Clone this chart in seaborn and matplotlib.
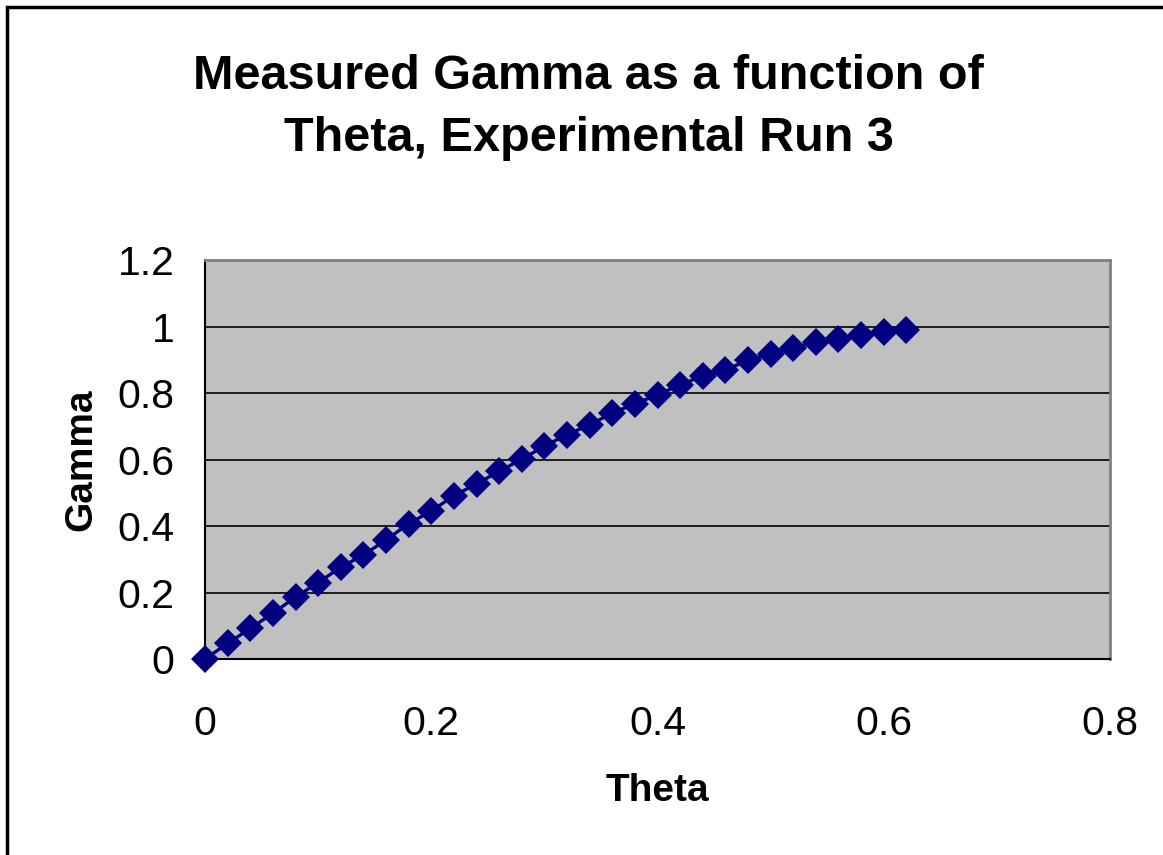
import numpy as np
import pandas as pd
import seaborn as sns
import matplotlib.pyplot as plt
from matplotlib.patches import Rectangle

theta = [0.00, 0.02, 0.04, 0.06, 0.08, 0.10, 0.12, 0.14, 0.16, 0.18,
         0.20, 0.22, 0.24, 0.26, 0.28, 0.30, 0.32, 0.34, 0.36, 0.38,
         0.40, 0.42, 0.44, 0.46, 0.48, 0.50, 0.52, 0.54, 0.56, 0.58,
         0.60, 0.62]
gamma = [0.000, 0.047, 0.092, 0.138, 0.186, 0.230, 0.276, 0.313, 0.358, 0.407,
         0.445, 0.491, 0.527, 0.564, 0.601, 0.640, 0.675, 0.704, 0.740, 0.767,
         0.795, 0.824, 0.852, 0.870, 0.898, 0.918, 0.936, 0.953, 0.963, 0.973,
         0.983, 0.991]
x_ticks = [0, 0.2, 0.4, 0.6, 0.8]
x_labels = ['0', '0.2', '0.4', '0.6', '0.8']
y_ticks = [0, 0.2, 0.4, 0.6, 0.8, 1.0, 1.2]
y_labels = ['0', '0.2', '0.4', '0.6', '0.8', '1', '1.2']

df = pd.DataFrame({'Theta': theta, 'Gamma': gamma})

sns.set_style('white')
plt.rcParams['font.family'] = ['Liberation Sans', 'DejaVu Sans']
plt.rcParams['text.color'] = 'black'
plt.rcParams['axes.labelcolor'] = 'black'
plt.rcParams['xtick.color'] = 'black'
plt.rcParams['ytick.color'] = 'black'

fig = plt.figure(figsize=(11.63, 8.55), dpi=100)
ax = fig.add_axes([0.1763, 0.2292, 0.7781, 0.4667])
ax.set_facecolor('#C0C0C0')

# gridlines
for y in y_ticks[1:-1]:
    ax.axhline(y, color='black', lw=1.2, zorder=1)

sns.lineplot(data=df, x='Theta', y='Gamma', ax=ax, color='#000080',
             marker='D', markersize=14.5, markeredgewidth=0, lw=2.4,
             zorder=3, clip_on=False)

ax.set_xlim(0, 0.8)
ax.set_ylim(0, 1.2)
ax.set_xticks(x_ticks)
ax.set_xticklabels(x_labels)
ax.set_yticks(y_ticks)
ax.set_yticklabels(y_labels)
ax.tick_params(axis='both', direction='out', length=8, width=1.2,
               color='black', labelsize=29.5)
ax.tick_params(axis='x', pad=25)
ax.tick_params(axis='y', pad=14)

for side in ['top', 'right']:
    ax.spines[side].set_color('#808080')
    ax.spines[side].set_linewidth(2)
for side in ['left', 'bottom']:
    ax.spines[side].set_color('black')
    ax.spines[side].set_linewidth(1.5)

ax.set_xlabel('Theta', fontsize=28, fontweight='bold', labelpad=22)
ax.set_ylabel('Gamma', fontsize=28, fontweight='bold', labelpad=13)

fig.text(0.506, 0.874, 'Measured Gamma as a function of\nTheta, Experimental Run 3',
         ha='center', va='center', fontsize=35, fontweight='bold',
         linespacing=1.5)

# chart frame (only top/left edges visible in the crop)
fig.patches.append(Rectangle((0.0064, -0.05), 1.1, 1.042,
                             transform=fig.transFigure, fill=False,
                             edgecolor='black', lw=2.5))

fig.savefig('out.png', dpi=100)
